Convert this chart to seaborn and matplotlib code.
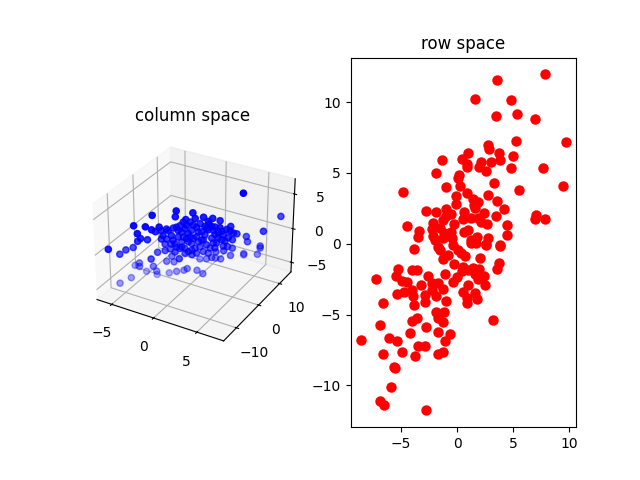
import matplotlib
matplotlib.use("Agg")
import matplotlib.pyplot as plt
import seaborn as sns

blue_x = [-6.29,-5.88,-5.43,-4.84,-4.27,-3.92,-3.4,-3.98,-4.4,-3.31,-3.07,-2.87,-2.27,-2.72,-1.1,-1.21,.29,1.26,2.06,2.65,.56,-.27,1.91,3.63,4.5,7.4,6.4,4.7,4.85,5.85,5.85,5.55,4.2,4.2,4.1,3.6,3.4,2.5,1.9,1.1,.3,2.85,2.2,1.2,.5,-.4,-.8,-1.4,-2.3,-3.5,-3.25,-4.5,-5.5,-6.3,-5.6,-4.75,-4.75,-3.35,-3.0,-2.8,-2.3,-1.7,-.5,.45,-1.95,1.7,3.3,3.85,3.95,
          -2.12,-1.79,-1.22,-1.08,-.75,-.18,.15,.72,1.05,1.62,2.15,2.72,3.05,3.43,-2.18,-1.85,-1.08,-.75,-.18,.15,.72,1.05,1.62,1.96,2.53,2.86,-2.31,-1.41,-.37,-.04,.53,.86,1.43,1.77,2.34,-.94,.02,.67,-1.28,-.37,-1.98,1.24,3.24,3.81,2.91,-.56,-1.47,.34,1.81,2.34,
          -1.98,-.89,-.56,.02,.34,.67,1.24,1.81,2.15,2.72,3.05,-1.74,-1.28,-.7,.02,.72,1.57,2.34,-2.31,-2.18,-.89,-.37,-.04,.86,1.43,1.96,2.86,3.62,-.75,.15]
blue_y = [-12,-9,-8,-7,-7,-7,-6,-8,-8,-7,-5,-6,-5,-5,-2,-2,0,1,2,3,0,-1,1,4,6,12,8,7,7,9,9,9,8,8,5,5,5,4,4,3,3,4,3,1,1,0,0,-1,-1,-2,-3,-3,-6,-8,-4,-5,-5,-4,-6,-4,-2,-1,-3,-1,-1,3,4,4,4,
          -4,-3,-3,-2,-1,-1,0,0,1,1,2,2,3,3,-3,-2,-2,-1,-1,0,0,1,1,2,2,3,-4,-3,-1,0,0,1,1,2,2,-1,-1,1,-2,-1,-3,1,3,3,2,-1,-2,0,1,2,
          -3,-2,-1,-1,0,1,1,1,2,2,3,-2,-2,-2,-1,0,2,2,-4,-3,-2,-1,0,1,1,2,3,3,-1,0]
blue_z = [0.0,-1.45,-.96,-.69,.41,.93,.65,1.89,2.86,2.81,3.95,2.25,2.56,1.75,4.4,3.54,4.05,3.48,3.31,2.9,3.35,3.19,2.74,2.14,6.56,2.62,1.27,.21,-.5,-1.35,-1.64,-2.68,-2.95,-2.76,.96,-1.3,-2.43,-2.98,-3.08,-3.15,-3.49,-1.65,-1.76,-4.73,-4.5,-4.27,-4.67,-4.75,-5.32,-5.69,-4.79,-5.29,-5.69,-6.2,-4.5,-3.52,-4.05,-3.81,-2.0,-1.54,-3.28,-3.44,-1.94,-1.6,-2.7,-2.76,-.88,.31,1.31,
          1.12,1.66,.46,2.11,1.22,2.42,1.52,2.14,1.33,2.05,1.63,1.48,1.06,1.93,-.41,-1.3,-.75,-.21,.52,-.39,.81,.14,-.34,.45,-.03,.27,.56,1.1,-1.0,.49,-.94,-.89,1.02,-1.06,1.09,2.1,1.3,1.17,-1.55,-1.72,.39,-1.45,.18,1.85,2.28,2.73,1.85,2.32,3.08,2.18,
          1.82,.76,.59,.11,.41,-.26,.22,1.89,-.19,.77,-.61,-.55,-.36,-.83,-1.32,-1.58,-1.86,-.82,1.75,-1.36,1.71,1.86,2.63,2.44,2.21,2.12,1.46,.82,-.92,-1.34]

red_x = [7.83,3.54,1.58,4.79,3.45,5.33,6.93,9.70,5.24,2.74,2.83,.95,3.72,4.97,.42,-1.37,2.11,3.01,3.81,.86,.86,1.93,2.56,4.79,7.65,-1.90,.15,.06,3.27,.24,-1.01,9.43,5.51,-4.85,.86,2.74,-.12,1.40,1.85,3.54,-.12,1.49,1.58,4.17,-2.80,-1.01,-1.90,.60,2.38,-.57,3.45,-1.01,.51,1.22,1.85,7.02,6.93,7.83,-2.17,-1.28,2.11,2.65,-.30,-4.49,4.43,-3.42,-2.26,-1.55,.95,.60,4.43,-3.51,-2.17,-1.19,-.57,1.76,1.22,2.74,-.48,-1.99,3.81,2.56,-1.28,
         -3.87,-1.73,-1.55,-.83,-1.28,-.39,.06,.36,.71,1.25,1.70,2.56,3.81,2.02,-.30,3.75,3.54,.51,.42,1.40,1.93,.95,1.64,1.85,2.38,2.47,-1.10,-.03,-.39,.95,-5.30,-4.05,-3.60,-5.48,-2.62,-7.26,-4.94,-4.49,-3.24,-1.73,-2.26,-1.28,-4.05,-4.76,-5.39,-3.96,-2.26,-2.89,-1.90,.51,1.58,.86,1.76,.86,-6.64,-3.87,-2.89,-1.01,-1.90,-1.19,-1.73,-3.60,-4.05,-1.28,3.18,-6.90,-2.80,-4.23,-1.73,-.65,-6.10,-5.39,-8.60,-1.10,-3.51,-2.89,-4.94,-6.64,-3.78,-1.73,-1.28,-5.65,-5.57,-5.92,-6.90,-6.55,-2.80]
red_y = [11.95,11.53,10.19,10.12,8.99,9.13,8.78,7.16,7.23,6.95,6.67,6.38,6.38,6.17,5.96,5.89,5.75,5.75,5.89,5.61,5.40,5.40,5.12,5.33,5.33,4.98,4.84,4.62,4.27,4.06,3.99,4.06,3.78,3.64,3.57,3.43,3.36,3.15,2.93,3.00,2.79,2.72,2.51,2.44,2.30,2.44,2.23,2.23,2.16,2.09,1.95,1.95,1.74,1.81,1.81,2.02,1.74,1.74,1.46,1.67,1.53,1.39,1.39,1.24,1.31,.89,1.03,1.10,.96,.82,.61,.47,.54,.75,.82,.47,.26,.40,.40,.26,-.09,-.02,.40,
         -.35,-.24,-.47,-.82,-1.10,-.12,-.47,-.66,-.84,.05,.05,-.07,-.14,-.99,-1.45,-1.34,-1.76,-1.64,-1.95,-1.69,-1.76,-1.88,-2.11,-2.46,-2.30,-2.89,-2.11,-2.35,-2.68,-2.89,-1.76,-1.83,-1.83,-2.25,-2.25,-2.46,-2.61,-2.68,-2.89,-2.75,-2.75,-3.17,-3.24,-3.40,-3.52,-3.66,-3.29,-3.59,-3.66,-3.38,-3.45,-3.80,-3.92,-4.15,-4.15,-4.30,-4.08,-4.01,-4.79,-4.79,-5.21,-5.21,-5.42,-5.52,-5.35,-5.70,-5.85,-6.27,-6.20,-6.34,-6.62,-6.83,-6.76,-6.83,-7.25,-7.25,-7.63,-7.75,-7.89,-7.75,-7.63,-8.73,-8.80,-10.14,-11.13,-11.41,-11.76]

fig = plt.figure(figsize=(6.4, 4.8), dpi=100)

ax3d = fig.add_subplot(1, 2, 1, projection="3d")
ax3d.scatter(blue_x, blue_y, blue_z, c="b")
ax3d.set_xlim(-6.8, 8.0)
ax3d.set_ylim(-15.5, 15.7)
ax3d.set_zlim(-6.45, 7.15)
ax3d.set_xticks([-5, 0, 5])
ax3d.set_yticks([-10, 0, 10])
ax3d.set_zticks([-5, 0, 5])
ax3d.set_title("column space")

ax2 = fig.add_subplot(1, 2, 2)
sns.scatterplot(x=red_x, y=red_y, color="r", s=36, edgecolor="face", linewidth=1.5, ax=ax2)
ax2.set_title("row space")

fig.savefig("out.png", dpi=100)
